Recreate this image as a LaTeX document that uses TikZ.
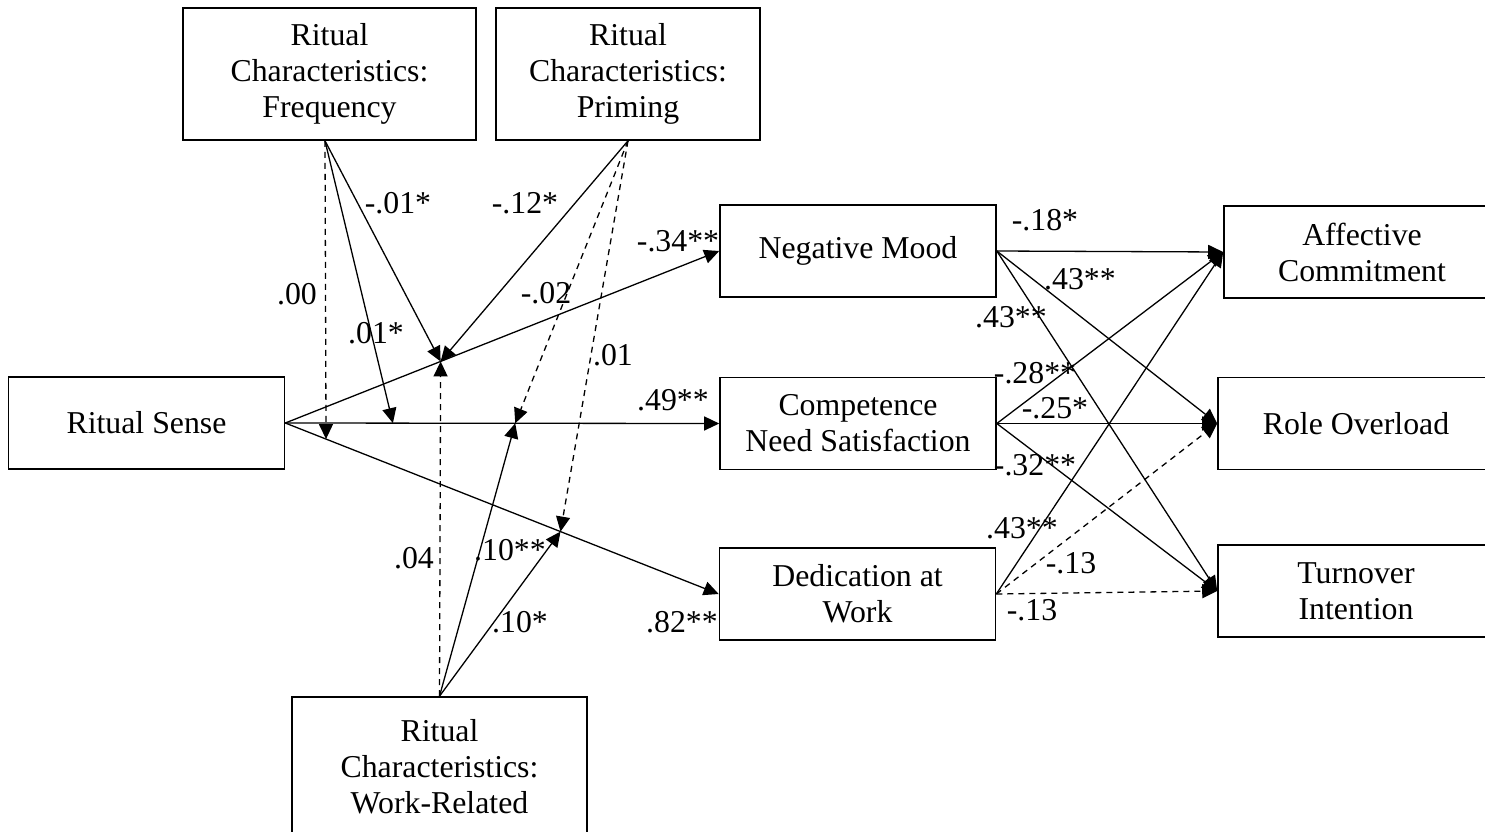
\documentclass[tikz,border=0pt]{standalone}
\usepackage{fontspec}
\setmainfont{Liberation Serif}
\usetikzlibrary{arrows.meta, calc}

\begin{document}
\begin{tikzpicture}[
    x=0.5pt, y=-0.5pt,
    box/.style={
      draw,
      line width=0.8pt,
      minimum width=138pt,
      minimum height=46pt,
      align=center,
      inner sep=2pt,
      font=\fontsize{15.9pt}{18pt}\selectfont,
    },
    modbox/.style={box, minimum height=66pt},
    lbl/.style={inner sep=0pt, font=\fontsize{15.9pt}{18pt}\selectfont},
    arr/.style={-{Triangle[length=7.5pt, width=7pt]}, line width=0.65pt},
    ns/.style={arr, dash pattern=on 3pt off 2.5pt},
  ]
    \useasboundingbox (0,0) rectangle (1485,831);

    % Predictor and mediators
    \node[box] (rs) at (146.5,423) {Ritual Sense};
    \node[box] (nm) at (858,251) {Negative Mood};
    \node[box] (cns) at (858,423.5) {Competence\\Need Satisfaction};
    \node[box] (daw) at (857.5,594) {Dedication at\\Work};

    % Outcomes
    \node[box] (ac) at (1362,252) {Affective\\Commitment};
    \node[box] (ro) at (1356,423.5) {Role Overload};
    \node[box] (ti) at (1356,591) {Turnover\\Intention};

    % Moderators
    \node[modbox, minimum width=146.5pt] (freq) at (329.5,74) {Ritual\\Characteristics:\\Frequency};
    \node[modbox, minimum width=132pt] (prim) at (628,74) {Ritual\\Characteristics:\\Priming};
    \node[modbox, minimum width=147.5pt, minimum height=70pt] (work) at (439.5,767) {Ritual\\Characteristics:\\Work-Related};

    % Paths from ritual sense
    \draw[arr] (rs.east) -- (nm.west);
    \draw[arr] (rs.east) -- (cns.west);
    \draw[arr] (rs.east) -- (daw.west);

    \coordinate (pA) at ($(rs.east)!0.358!(nm.west)$);
    \coordinate (pB1) at ($(rs.east)!0.248!(cns.west)$);
    \coordinate (pB2) at ($(rs.east)!0.530!(cns.west)$);
    \coordinate (pC0) at ($(rs.east)!0.094!(daw.west)$);
    \coordinate (pC1) at ($(rs.east)!0.635!(daw.west)$);
    \coordinate (fq) at ([xshift=-2.25pt]freq.south);

    % Moderation
    \draw[arr] (fq) -- (pA);
    \draw[arr] (fq) -- (pB1);
    \draw[ns] (fq) -- (pC0);
    \draw[arr] (prim.south) -- (pA);
    \draw[ns] (prim.south) -- (pB2);
    \draw[ns] (prim.south) -- (pC1);
    \draw[ns] (work.north) -- (pA);
    \draw[arr] (work.north) -- (pB2);
    \draw[arr] (work.north) -- (pC1);

    % Mediators to outcomes
    \draw[arr] (nm.east) -- (ac.west);
    \draw[arr] (nm.east) -- (ro.west);
    \draw[arr] (nm.east) -- (ti.west);
    \draw[arr] (cns.east) -- (ac.west);
    \draw[arr] (cns.east) -- (ro.west);
    \draw[arr] (cns.east) -- (ti.west);
    \draw[arr] (daw.east) -- (ac.west);
    \draw[ns] (daw.east) -- (ro.west);
    \draw[ns] (daw.east) -- (ti.west);

    % Coefficients
    \node[lbl] (l34) at (678,241) {-.34**};
    \node[lbl] (l49) at (673,400) {.49**};
    \node[lbl] (l82) at (682,622) {.82**};
    \node[lbl] (l01a) at (398,203) {-.01*};
    \node[lbl] (l12) at (525,203) {-.12*};
    \node[lbl] (l00) at (297,294) {.00};
    \node[lbl] (l01b) at (376,333) {.01*};
    \node[lbl] (l02) at (546,293) {-.02};
    \node[lbl] (l01c) at (613,355) {.01};
    \node[lbl] (l04) at (414,558) {.04};
    \node[lbl] (l10a) at (510,550) {.10**};
    \node[lbl] (l10b) at (520,622) {.10*};
    \node[lbl] (l18) at (1045,220) {-.18*};
    \node[lbl] (l43a) at (1080,279) {.43**};
    \node[lbl] (l43b) at (1011,317) {.43**};
    \node[lbl] (l28) at (1035,373) {-.28**};
    \node[lbl] (l25) at (1055,408) {-.25*};
    \node[lbl] (l32) at (1035,465) {-.32**};
    \node[lbl] (l43c) at (1022,528) {.43**};
    \node[lbl] (l13a) at (1071,563) {-.13};
    \node[lbl] (l13b) at (1032,610) {-.13};
  \end{tikzpicture}
\end{document}
